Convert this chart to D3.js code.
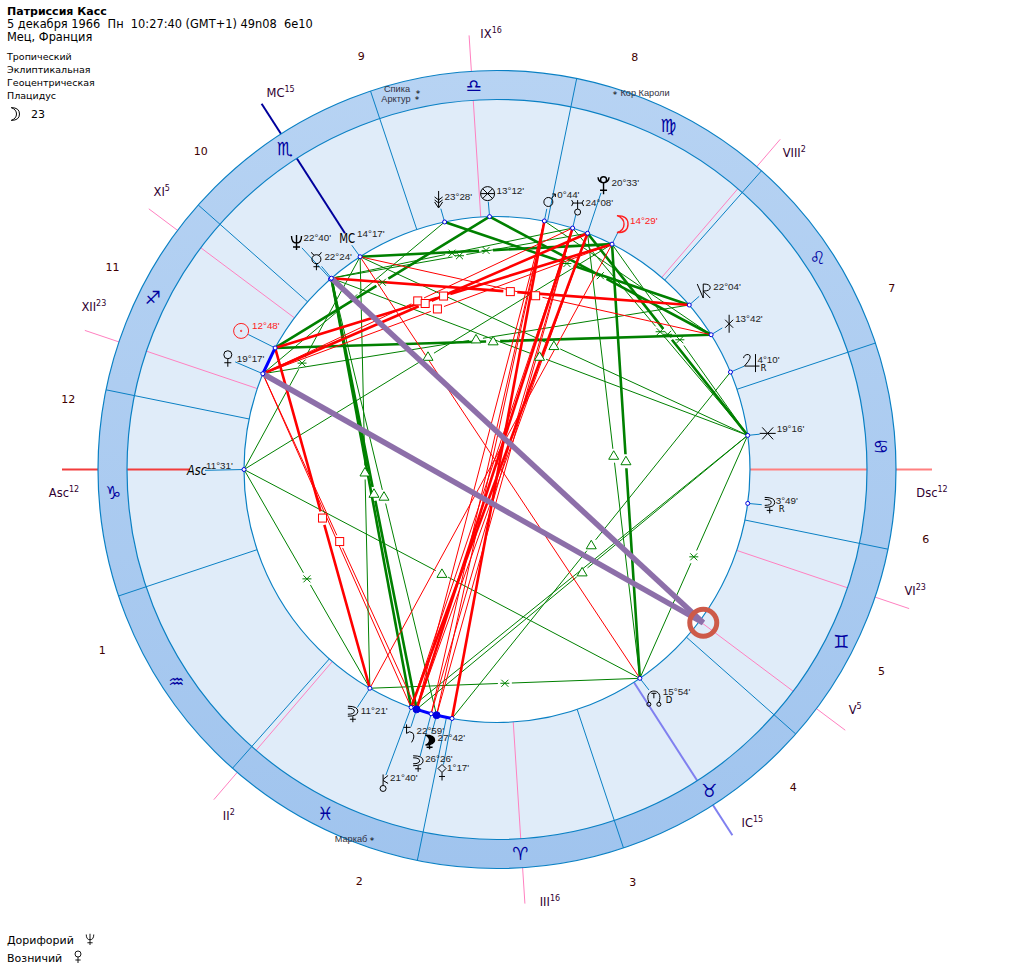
<!DOCTYPE html>
<html><head><meta charset="utf-8">
<script src="https://cdnjs.cloudflare.com/ajax/libs/d3/7.8.5/d3.min.js"></script>
<style>html,body{margin:0;padding:0;background:#fff}svg{display:block}text{font-family:"DejaVu Sans",Verdana,sans-serif;white-space:pre}</style>
</head><body><div id="chart"></div>
<script>
// ---------- data ----------
const headerLines = ["5 декабря 1966  Пн  10:27:40 (GMT+1) 49n08  6e10", "Мец, Франция"];
const chartTitle = "Патриссия Касс";
const settingsLines = ["Тропический", "Эклиптикальная", "Геоцентрическая", "Плацидус"];
const footerRows = [["Дорифорий", "Ne"], ["Возничий", "Ve"]];
const ascendantLon = 281.52;
const signGlyphs = ["♈","♉","♊","♋","♌","♍","♎","♏","♐","♑","♒","♓"];
const cuspNames = ["Asc","II","III","IC","V","VI","Dsc","VIII","IX","MC","XI","XII"];
const cuspDegrees = [12,2,16,15,5,23,12,2,16,15,5,23];
const cuspLons = [281.52,330.9,15.2,44.28,64.7,82.87,101.52,150.9,195.2,224.28,244.7,262.87];
const houseNumbers = [1,2,3,4,5,6,7,8,9,10,11,12];
const pointIds = ["As","MC","Su","Ve","Ne","Me","Va","Fo","Ma","Ur","Pl","Mo","Li","Ce","Ju","St","Cb","No","Xx","Ch","Sa","Cr","Bm","Vf"];
const pointLons = [281.52,224.28,252.8,259.28,232.67,232.4,203.47,193.2,180.73,174.13,170.55,164.48,142.07,133.7,124.17,109.27,93.82,45.9,341.35,351.67,352.98,356.43,357.7,1.28];
const pointDegrees = ["11°31'","14°17'","12°48'","19°17'","22°40'","22°24'","23°28'","13°12'","0°44'","24°08'","20°33'","14°29'","22°04'","13°42'","4°10'","19°16'","3°49'","15°54'","11°21'","21°40'","22°59'","26°26'","27°42'","1°17'"];
const retroMarks = {Ju:"R", Cb:"R", No:"D"};
const squareAspects = [["Su","Mo"],["Ve","Ur"],["Ve","Pl"],["Ve","Mo"],["Me","Li"],["MC","Ce"],["Su","Xx"],["Ve","Sa"]];
const oppositionAspects = [["Ma","Vf"],["Ma","Bm"],["Ma","Cr"],["Ma","Sa"],["Ur","Sa"],["Ur","Ch"],["Ur","Cr"],["Ur","Bm"],["Pl","Sa"],["Pl","Ch"],["Mo","Xx"],["MC","No"]];
const trineAspects = [["MC","Xx"],["Me","Sa"],["Me","Bm"],["Ve","Li"],["Su","Ce"],["As","Mo"],["As","No"],["MC","St"],["Me","St"],["Mo","No"],["Pl","No"],["Ju","Vf"],["St","Sa"]];
const sextileAspects = [["Su","Fo"],["Va","Li"],["Fo","Ce"],["Ur","St"],["Pl","St"],["Mo","St"],["Me","Ur"],["Me","Pl"],["MC","Mo"],["As","MC"],["As","Xx"],["Xx","No"],["St","No"],["Ve","Va"]];
const conjunctionAspects = [["Su","Ve"],["Sa","Cr"],["Cr","Bm"],["Bm","Vf"]];
// drawn without their own mark because another aspect's mark already sits on them
const unmarkedGreen = [["Me","Ch"],["St","Ch"],["Ma","Ce"]];
const unmarkedRed = [["Ve","Ch"]];
const tightAspects = ["Su-Mo","Ve-Pl","Me-Li","Su-Xx","Ma-Vf","Ur-Sa","Pl-Ch","Me-Sa","Me-Ch","Su-Ce","Mo-No","Su-Fo","Va-Li","Fo-Ce","Pl-St","MC-Mo"];
const emphasisedPoints = ["Sa","Bm"];
const stars = ["Спика","Арктур","Кор Кароли","Маркаб"];
const ringedLon = 64.9;
const ringedLinks = ["Me","Ve"];
const moonDay = "23";

// ---------- layout ----------
const W=1018,H=968,cx=497,cy=469.5;
const R={out:399,band:370,inner:253,cuspEnd:435,houseNo:434.5,ring:257};
const cuspStart={Asc:307,MC:281};
const angle=d3.scaleLinear().domain([ascendantLon,ascendantLon+360]).range([Math.PI,3*Math.PI]);
const pol=(lon,r)=>[cx+r*Math.cos(angle(lon)),cy-r*Math.sin(angle(lon))];
const pts=new Map(pointIds.map((id,i)=>[id,{id,lon:pointLons[i],deg:pointDegrees[i],p:pol(pointLons[i],R.inner)}]));
const slots={As:[-47,1,-38,-4],MC:[-13,-18,-3,-23],Su:[-34,-17,-23,-22],Ve:[-35,-15,-26,-15],Ne:[-34,-37,-27,-41],Me:[-15,-18,-7,-22],
Va:[-6,-21,0,-25],Fo:[-2,-23,7,-26],Ma:[4,-20,13,-26],Ur:[5,-21,13,-26],Pl:[16,-48,24,-51],Mo:[10,-20,18,-24],Li:[16,-14,24,-19],Ce:[18,-11,24,-16],
Ju:[21,-9,27,-13],St:[20,-2,29,-7],Cb:[22,2,28,-3],No:[14,18,23,13],Xx:[-17,26,-9,22],Ch:[-28,75,-21,70],Sa:[-8,25,0,21],Cr:[-13,50,-6,45],Bm:[-7,26,1,22],Vf:[-10,54,-5,49]};
const redPts=new Set(["Su","Mo"]);
const crescentCross="M-5,-8Q5,-8 5,-3Q5,2 -5,2M-5,-6Q1.5,-6 1.5,-3Q1.5,0 -5,0M0,2V8M-3,5H3";
const glyphPaths={
 Su:"M7.5,0A7.5,7.5 0 1 1 -7.5,0A7.5,7.5 0 1 1 7.5,0ZM0.7,0A.7,.7 0 1 1 -.7,0A.7,.7 0 1 1 .7,0Z",
 Mo:"M-5,-8.5Q6,-8.5 6,0Q6,8.5 -5,8.5Q2,6 2,0Q2,-6 -5,-8.5Z",
 Me:"M4.5,-1A4.5,4.5 0 1 1 -4.5,-1A4.5,4.5 0 1 1 4.5,-1ZM-5,-8Q-4,-5.5 -2,-5M5,-8Q4,-5.5 2,-5M0,3.5V10M-3,6.5H3",
 Ve:"M4,-4A4,4 0 1 1 -4,-4A4,4 0 1 1 4,-4ZM0,0V8M-3.5,4H3.5",
 Ne:"M-5,-6Q-5,1 0,1Q5,1 5,-6M0,-7V8M-3.5,5H3.5",
 Ma:"M4.5,1A4.5,4.5 0 1 1 -4.5,1A4.5,4.5 0 1 1 4.5,1ZM3,-2.5L7,-7M4,-7H7V-4",
 Ur:"M-6,-7Q-3,-4.5 -6,-1M6,-7Q3,-4.5 6,-1M-5,-4H5M0,-7V2M3,5A3,3 0 1 1 -3,5A3,3 0 1 1 3,5Z",
 Pl:"M3,-5.5A3,3 0 1 1 -3,-5.5A3,3 0 1 1 3,-5.5ZM-5.5,-8A5.5,5.5 0 0 0 5.5,-8M0,-2.5V9M-3.5,5H3.5",
 Ju:"M-8,-5Q-7,-9 -3,-8.5Q2,-7 -7,3H8M4,-9V9",
 Sa:"M-5,-7H2M-2,-10V-1Q1,-4 4,-1.5Q7,2 3,8",
 Li:"M-8,-7L-2,7V-7Q5,-7 5,-3.5Q5,0 -2,0L5,7",
 Ce:"M0,-9V9M-4,-4L4,4M4,-4L-4,4",
 St:"M-8,0H8M-5.5,-6L5.5,6M5.5,-6L-5.5,6",
 Cb:crescentCross, Xx:crescentCross, Cr:crescentCross,
 Bm:"M-4,-6Q5,-6 5,-1Q5,3 -4,4Q0,2 0,-1Q0,-4 -4,-6ZM0,3.5V8M-3,6H3",
 Ch:"M3,6A3,3 0 1 1 -3,6A3,3 0 1 1 3,6ZM0,3V-8M0,-3L5,-7M0,-2L5,1",
 Vf:"M0,-8L4,-4L0,0L-4,-4ZM0,0V8M-3,4H3",
 No:"M-5,6C-11,-9 11,-9 5,6M-2.5,-3H2.5M0,-3V2M-3,8A2,2 0 1 1 -7,8A2,2 0 1 1 -3,8ZM7,8A2,2 0 1 1 3,8A2,2 0 1 1 7,8Z",
 Fo:"M7,0A7,7 0 1 1 -7,0A7,7 0 1 1 7,0ZM-5,-5L5,5M5,-5L-5,5M-7,0H7",
 Va:"M0,-10V6M-4,1L0,7L4,1M-4,-4L0,-1L4,-4M-4,-1L0,2L4,-1"
};
const heavy=new Set(["Ne","Bm","Mo","Pl"]);

const svg=d3.select("#chart").append("svg").attr("width",W).attr("height",H).attr("viewBox",`0 0 ${W} ${H}`);
const defs=svg.append("defs");
const lg=defs.append("linearGradient").attr("id","bandFill").attr("x1",0).attr("y1",0).attr("x2",0).attr("y2",1);
lg.append("stop").attr("offset","0").attr("stop-color","#b7d3f3");
lg.append("stop").attr("offset","1").attr("stop-color","#a0c4ee");

const BLUE="#0a80c4";
const chart=svg.append("g");
chart.append("circle").attr("cx",cx).attr("cy",cy).attr("r",R.band).attr("fill","#e0ecf9");

const cuspColor={Asc:"#f23c3c",Dsc:"#ff8080",MC:"#00009c",IC:"#8080f0"};
cuspLons.forEach((lon,i)=>{
  const n=cuspNames[i],a=pol(lon,cuspStart[n]||R.inner),b=pol(lon,R.cuspEnd);
  chart.append("line").attr("x1",a[0]).attr("y1",a[1]).attr("x2",b[0]).attr("y2",b[1])
    .attr("stroke",cuspColor[n]||"#ff80c0").attr("stroke-width",cuspColor[n]?2:1);
});
const arc=d3.arc().innerRadius(R.band).outerRadius(R.out).startAngle(0).endAngle(2*Math.PI);
chart.append("path").attr("transform",`translate(${cx},${cy})`).attr("d",arc()).attr("fill","url(#bandFill)").attr("stroke",BLUE).attr("stroke-width",1.2);
chart.append("circle").attr("cx",cx).attr("cy",cy).attr("r",R.inner).attr("fill","#fff").attr("stroke",BLUE).attr("stroke-width",1.2);
signGlyphs.forEach((g,i)=>{
  const a=pol(i*30,R.inner),b=pol(i*30,R.out);
  chart.append("line").attr("x1",a[0]).attr("y1",a[1]).attr("x2",b[0]).attr("y2",b[1]).attr("stroke",BLUE).attr("stroke-width",1);
  const c=pol(i*30+15,R.band+14.5);
  chart.append("text").attr("x",c[0]).attr("y",c[1]).attr("text-anchor","middle").attr("dominant-baseline","central")
    .attr("font-size",18).attr("fill","#0000a0").text(g+"\uFE0E");
});
houseNumbers.forEach((h,i)=>{
  const a=cuspLons[i],b=cuspLons[(i+1)%12]; const m=a+(((b-a)+360)%360)/2;
  const c=pol(m,R.houseNo);
  chart.append("text").attr("x",c[0]).attr("y",c[1]).attr("text-anchor","middle").attr("dominant-baseline","central")
    .attr("font-size",11).attr("fill","#400000").text(h);
});
const cuspLabelOffset={Asc:[2,23],II:[15,16],III:[25,-2],IC:[20,-12],V:[10,-20],VI:[6,-18],Dsc:[0,23],VIII:[14,14],IX:[22,-1],MC:[19,-11],XI:[13,-17],XII:[9,-23]};
cuspNames.forEach((n,i)=>{
  const e=pol(cuspLons[i],R.cuspEnd),o=cuspLabelOffset[n];
  const t=chart.append("text").attr("x",e[0]+o[0]).attr("y",e[1]+o[1]).attr("text-anchor","middle").attr("dominant-baseline","central").attr("font-size",11.5).attr("fill","#300030");
  t.append("tspan").text(n);
  t.append("tspan").attr("font-size",8).attr("dy",-4).text(cuspDegrees[i]);
});
const starPos={"Спика":[397,89,418,94],"Арктур":[396,99,417,100],"Кор Кароли":[645,92.5,615,95],"Маркаб":[351,839,372,841]};
stars.forEach(n=>{
  const s=starPos[n];
  chart.append("text").attr("x",s[0]).attr("y",s[1]).attr("text-anchor","middle").attr("dominant-baseline","central").attr("font-size",9.2).attr("fill","#303040").style("font-family","Liberation Sans").text(n);
  chart.append("text").attr("x",s[2]).attr("y",s[3]).attr("text-anchor","middle").attr("dominant-baseline","central").attr("font-size",9).attr("fill","#000").text("*");
});
pts.forEach(d=>{
  const s=slots[d.id],l=Math.hypot(s[0],s[1]),k=Math.max(0,(l-8)/l);
  chart.append("line").attr("x1",d.p[0]).attr("y1",d.p[1]).attr("x2",d.p[0]+s[0]*k).attr("y2",d.p[1]+s[1]*k).attr("stroke",BLUE).attr("stroke-width",1);
});

const tight=new Set(tightAspects);
const aspectSets=[
 {list:unmarkedGreen,color:"#008000",mark:null},
 {list:unmarkedRed,color:"#ff0000",mark:null},
 {list:trineAspects,color:"#008000",mark:"tri"},
 {list:sextileAspects,color:"#008000",mark:"sex"},
 {list:squareAspects,color:"#ff0000",mark:"sq"},
 {list:oppositionAspects,color:"#ff0000",mark:null},
 {list:conjunctionAspects,color:"#0000ff",mark:null}];
const gLines=chart.append("g"),gMarks=chart.append("g");
const width=d3.scaleOrdinal().domain([false,true]).range([1,2.6]);
const GAP=7;
aspectSets.forEach(set=>{
  set.list.forEach(d=>{
    const a=pts.get(d[0]).p,b=pts.get(d[1]).p,m=[(a[0]+b[0])/2,(a[1]+b[1])/2];
    const len=Math.hypot(b[0]-a[0],b[1]-a[1]),ux=(b[0]-a[0])/len,uy=(b[1]-a[1])/len;
    const p=d3.path(); p.moveTo(a[0],a[1]);
    if(set.mark){ p.lineTo(m[0]-ux*GAP,m[1]-uy*GAP); p.moveTo(m[0]+ux*GAP,m[1]+uy*GAP); }
    p.lineTo(b[0],b[1]);
    gLines.append("path").attr("d",p.toString()).attr("fill","none").attr("stroke",set.color)
      .attr("stroke-width",set.color==="#0000ff"?3:width(tight.has(d.join("-"))));
    if(!set.mark) return;
    const g=gMarks.append("g").attr("transform",`translate(${m[0]},${m[1]})`);
    if(set.mark==="sq") g.append("rect").attr("x",-4).attr("y",-4).attr("width",8).attr("height",8).attr("fill","#fff").attr("stroke",set.color);
    if(set.mark==="tri") g.append("path").attr("d","M0,-5L5,3.5L-5,3.5Z").attr("fill","#fff").attr("stroke",set.color);
    if(set.mark==="sex") g.append("path").attr("d","M-3.5,-3.5L3.5,3.5M-3.5,3.5L3.5,-3.5M-4.5,0L4.5,0").attr("stroke",set.color).attr("fill","none");
  });
});

const ringP=pol(ringedLon,R.ring);
ringedLinks.forEach(id=>{
  const a=pts.get(id).p;
  chart.append("line").attr("x1",a[0]).attr("y1",a[1]).attr("x2",ringP[0]).attr("y2",ringP[1]).attr("stroke","#8d6fa9").attr("stroke-width",5.5);
});
chart.append("circle").attr("cx",ringP[0]).attr("cy",ringP[1]).attr("r",13.5).attr("fill","none").attr("stroke","#cd5a49").attr("stroke-width",5);

pts.forEach(d=>{
  const em=emphasisedPoints.includes(d.id);
  chart.append("circle").attr("cx",d.p[0]).attr("cy",d.p[1]).attr("r",em?3.5:2).attr("fill",em?"#0000e0":"#fff").attr("stroke","#0000e0").attr("stroke-width",1);
  const s=slots[d.id],col=redPts.has(d.id)?"#ff2020":"#000",gx=d.p[0]+s[0],gy=d.p[1]+s[1];
  if(d.id==="As"||d.id==="MC"){
    chart.append("text").attr("transform",`translate(${gx},${gy}) scale(${d.id==="MC"?0.85:0.95},1.15)`).attr("text-anchor","middle").attr("dominant-baseline","central")
      .attr("font-size",12).attr("fill",col).attr("font-style",d.id==="As"?"italic":"normal").text(d.id==="As"?"Asc":"MC");
  } else {
    chart.append("path").attr("transform",`translate(${gx},${gy})`).attr("d",glyphPaths[d.id])
      .attr("fill",d.id==="Bm"?"#000":"none").attr("stroke",col).attr("stroke-width",heavy.has(d.id)?1.4:1);
  }
  chart.append("text").attr("x",d.p[0]+s[2]).attr("y",d.p[1]+s[3]).attr("dominant-baseline","central")
    .attr("font-size",9.8).attr("fill",redPts.has(d.id)?"#ff2020":"#222").style("font-family","Liberation Sans").text(d.deg);
  if(retroMarks[d.id]) chart.append("text").attr("x",d.p[0]+s[2]+3).attr("y",d.p[1]+s[3]+9).attr("dominant-baseline","central").attr("font-size",8.5).attr("fill","#000").text(retroMarks[d.id]);
});

const hd=svg.append("g");
hd.append("text").attr("x",7).attr("y",15).attr("font-size",11).attr("font-weight","bold").attr("fill","#000").text(chartTitle);
headerLines.forEach((t,i)=>hd.append("text").attr("x",7).attr("y",28+i*13).attr("font-size",11.4).attr("fill","#000").text(t));
settingsLines.forEach((t,i)=>hd.append("text").attr("x",7).attr("y",60+i*13).attr("font-size",9.5).attr("fill","#000").text(t));
hd.append("path").attr("transform","translate(15,114) scale(.75)").attr("d",glyphPaths.Mo).attr("fill","none").attr("stroke","#000").attr("stroke-width",1.3);
hd.append("text").attr("x",31).attr("y",118).attr("font-size",11).text(moonDay);
footerRows.forEach((r,i)=>{
  hd.append("text").attr("x",7).attr("y",944+i*18).attr("font-size",11).attr("fill","#000").text(r[0]);
  hd.append("path").attr("transform",`translate(${i?78:90},${939+i*18}) scale(.75)`).attr("d",glyphPaths[r[1]]).attr("fill","none").attr("stroke","#000").attr("stroke-width",1.2);
});
</script></body></html>
